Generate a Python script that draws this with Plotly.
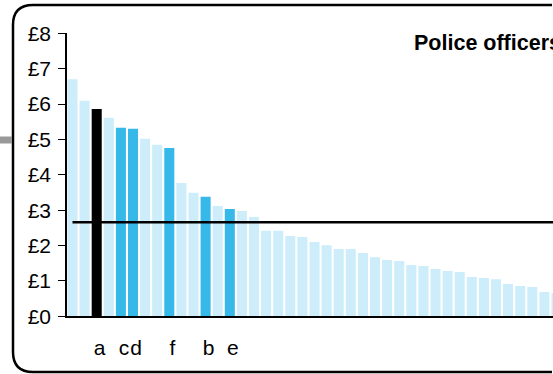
import plotly.graph_objects as go

# ---- data ----
values = [6.70, 6.09, 5.86, 5.61, 5.33, 5.30, 5.02, 4.85, 4.76, 3.77,
          3.49, 3.38, 3.12, 3.03, 2.98, 2.81, 2.42, 2.42, 2.27, 2.24,
          2.10, 2.01, 1.90, 1.90, 1.79, 1.67, 1.59, 1.56, 1.45, 1.42,
          1.34, 1.28, 1.25, 1.11, 1.08, 1.05, 0.91, 0.86, 0.83, 0.69, 0.66]
labels = ['', '', 'a', '', 'c', 'd', '', '', 'f', '', '', 'b', '', 'e'] + [''] * 27
groups = ['other', 'other', 'selected', 'other', 'highlight', 'highlight', 'other', 'other',
          'highlight', 'other', 'other', 'highlight', 'other', 'highlight'] + ['other'] * 27
average = 2.66
title_text = "Police officers"
y_ticks = [0, 1, 2, 3, 4, 5, 6, 7, 8]
y_tick_text = ['£' + str(v) for v in y_ticks]

# ---- styling ----
W, H = 553, 374
FONT = "Liberation Sans, Arial, sans-serif"
color_map = {'other': '#CCEDF9', 'highlight': '#36B9E9', 'selected': '#000000'}

x = list(range(len(values)))
fig = go.Figure()
fig.add_trace(go.Bar(x=x, y=values, marker=dict(color=[color_map[g] for g in groups], line=dict(width=0)),
                     hoverinfo='skip'))
fig.add_trace(go.Scatter(x=[0, len(values) - 1], y=[average, average], mode='lines',
                         line=dict(color='black', width=2.5), hoverinfo='skip'))

def px(xp):
    return xp / W

def py(yp):
    return 1 - yp / H

# rounded frame (decoration)
L, T, B, R, r = 13, 5, 372, 572, 20
path = (f"M {px(R - r)},{py(T)} L {px(L + r)},{py(T)} Q {px(L)},{py(T)} {px(L)},{py(T + r)} "
        f"L {px(L)},{py(B - r)} Q {px(L)},{py(B)} {px(L + r)},{py(B)} L {px(R - r)},{py(B)}")
shapes = [
    dict(type='path', xref='paper', yref='paper', path=path, line=dict(color='black', width=2.5)),
    dict(type='line', xref='paper', yref='paper', x0=0, x1=px(12), y0=py(140), y1=py(140),
         line=dict(color='#999999', width=7)),
]

tick_idx = [i for i, l in enumerate(labels) if l]
fig.update_layout(
    width=W, height=H, margin=dict(l=0, r=0, t=0, b=0, pad=0), autosize=False,
    paper_bgcolor='white', plot_bgcolor='white', showlegend=False,
    bargap=0.17, font=dict(family=FONT, size=21, color='black'),
    shapes=shapes,
    annotations=[dict(text=f"<b>{title_text}</b>", xref='paper', yref='paper', x=px(412), y=py(43),
                      xanchor='left', yanchor='middle', showarrow=False,
                      font=dict(family=FONT, size=21.5, color='black'))],
    xaxis=dict(domain=[px(67), 1], range=[-0.455, 39.71], showgrid=False, zeroline=False,
               showline=True, linecolor='black', linewidth=1.5, ticks='', automargin=False,
               tickvals=tick_idx, ticktext=[labels[i] for i in tick_idx], tickangle=0,
               ticklabelstandoff=12, ticklabelshift=3),
    yaxis=dict(domain=[py(316.3), py(33.3)], range=[0, 8], showgrid=False, zeroline=False,
               showline=True, linecolor='black', linewidth=1.5, ticks='outside', ticklen=7,
               tickwidth=1, tickcolor='black', tickvals=y_ticks, ticktext=y_tick_text,
               ticklabelstandoff=3, automargin=False),
)
fig.write_html("out.html", config={'responsive': False, 'displayModeBar': False},
               post_script="document.body.style.margin='0';document.body.style.overflow='hidden';")
